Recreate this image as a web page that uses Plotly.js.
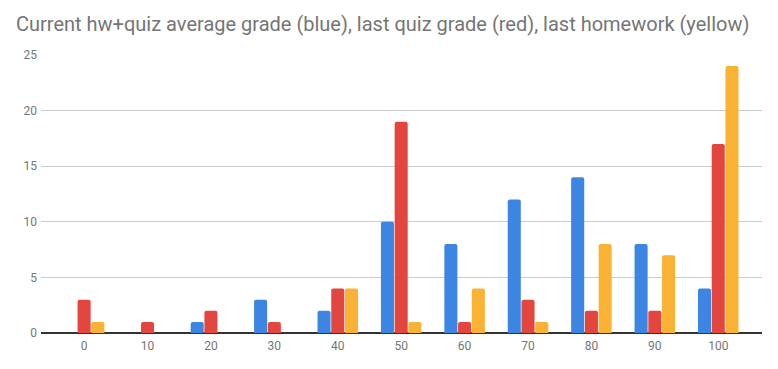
<!DOCTYPE html>
<html><head><meta charset="utf-8">
<script src="https://cdn.plot.ly/plotly-3.0.1.min.js"></script>
<style>html,body{margin:0;padding:0;background:#fff}#chart{width:778px;height:369px}</style>
</head><body><div id="chart"></div>
<script>
const categories = ["0","10","20","30","40","50","60","70","80","90","100"];
const avgGrade = [0,0,1,3,2,10,8,12,14,8,4];
const lastQuiz = [3,1,2,1,4,19,1,3,2,2,17];
const lastHomework = [1,0,0,0,4,1,4,1,8,7,24];
const yTicks = [0,5,10,15,20,25];

function tr(name, y, color){
  return {type:'bar', name:name, x:categories, y:y,
    marker:{color:color, cornerradius:2, line:{width:0}}, hoverinfo:'y'};
}
const data = [
  tr('Current hw+quiz average', avgGrade, '#3d85e3'),
  tr('Last quiz', lastQuiz, '#e2463f'),
  tr('Last homework', lastHomework, '#f9b233')
];
const layout = {
  width:778, height:369,
  margin:{l:41, r:16, t:55, b:36},
  paper_bgcolor:'#fff', plot_bgcolor:'#fff',
  font:{family:'Roboto, Arial, sans-serif', color:'#757575', size:12},
  title:{text:'Current hw+quiz average grade (blue), last quiz grade (red), last homework (yellow)',
    x:0, xref:'paper', xanchor:'left', y:1, yref:'container', yanchor:'top', pad:{t:17, l:-25},
    font:{family:'Roboto, Arial, sans-serif', size:20, color:'#757575'}},
  showlegend:false,
  barmode:'group', bargap:0.35, bargroupgap:0.05,
  xaxis:{type:'category', range:[-0.68,10.69], showgrid:false, zeroline:false,
    showline:false, ticks:'', tickfont:{size:12, color:'#757575'}, ticklabelstandoff:4},
  yaxis:{range:[0,25], tickvals:yTicks, ticktext:yTicks.map(String), showgrid:true, gridcolor:'#cccccc',
    zeroline:true, zerolinecolor:'#333333', zerolinewidth:1.5, showline:false, ticks:'',
    tickfont:{size:12, color:'#757575'}, ticklabelstandoff:3}
};
Plotly.newPlot('chart', data, layout, {displayModeBar:false, staticPlot:true});
</script></body></html>
